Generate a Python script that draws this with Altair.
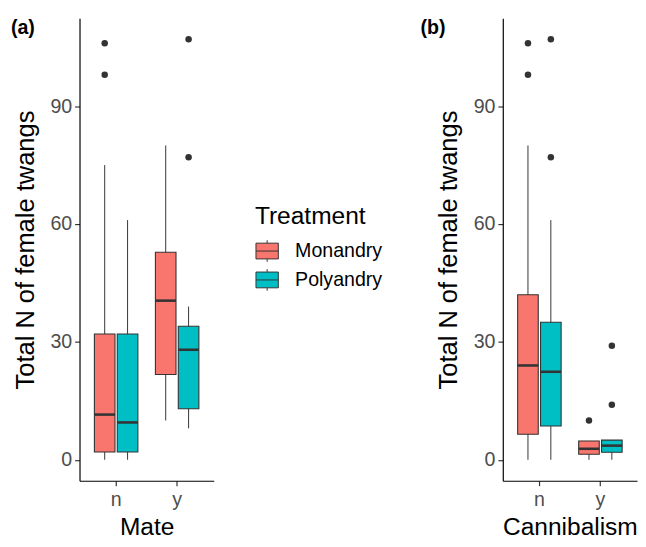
import altair as alt
import pandas as pd

# ---- data ----
treat_levels = ["Monandry", "Polyandry"]
fill_colors = ["#F8766D", "#00BFC4"]

box_panel = ["a", "a", "a", "a", "b", "b", "b", "b"]
box_group = ["n", "n", "y", "y", "n", "n", "y", "y"]
box_treat = ["Monandry", "Polyandry", "Monandry", "Polyandry",
             "Monandry", "Polyandry", "Monandry", "Polyandry"]
box_lower = [0, 0, 10, 8, 0, 0, 0, 0]
box_q1 = [2, 2, 21.7, 13, 6.5, 8.6, 1.4, 1.9]
box_median = [11.5, 9.5, 40.5, 28, 24, 22.4, 2.8, 3.6]
box_q3 = [32, 32, 52.8, 34, 42, 35, 4.8, 5]
box_upper = [75, 61, 80, 39, 80, 61, 4.8, 5]

out_panel = ["a", "a", "a", "a", "b", "b", "b", "b", "b", "b", "b"]
out_group = ["n", "n", "y", "y", "n", "n", "n", "n", "y", "y", "y"]
out_treat = ["Monandry", "Monandry", "Polyandry", "Polyandry",
             "Monandry", "Monandry", "Polyandry", "Polyandry",
             "Monandry", "Polyandry", "Polyandry"]
out_value = [106, 98, 107, 77, 106, 98, 107, 77, 10, 29, 14]

panel_ids = ["a", "b"]
panel_tags = ["(a)", "(b)"]
x_titles = ["Mate", "Cannibalism"]
y_title = "Total N of female twangs"
y_ticks = [0, 30, 60, 90]

boxes = pd.DataFrame({"panel": box_panel, "group": box_group, "treat": box_treat,
                      "lower": box_lower, "q1": box_q1, "median": box_median,
                      "q3": box_q3, "upper": box_upper})
outs = pd.DataFrame({"panel": out_panel, "group": out_group,
                     "treat": out_treat, "value": out_value})

Y_DOMAIN = [-5.35, 112.35]
LEGEND_PATH = ("M-0.95,-0.67L0.95,-0.67L0.95,0.67L-0.95,0.67Z"
               "M-0.95,0L0.95,0M0,-0.67L0,-0.92M0,0.67L0,0.92")


def panel(pid, tag, xtitle, tag_x, show_legend):
    b = boxes[boxes.panel == pid]
    o = outs[outs.panel == pid]
    yscale = alt.Scale(domain=Y_DOMAIN, nice=False, zero=False)
    xenc = alt.X("group:N", title=xtitle,
                 scale=alt.Scale(paddingInner=0.25, paddingOuter=0.225),
                 axis=alt.Axis(labelAngle=0))
    xoff = alt.XOffset("treat:N", scale=alt.Scale(domain=treat_levels,
                                                   paddingInner=0.1, paddingOuter=0.05))
    yaxis = alt.Axis(values=y_ticks, title=y_title)

    if show_legend:
        legend = alt.Legend(title="Treatment", orient="none", legendX=179, legendY=190,
                            symbolType=LEGEND_PATH, symbolSize=576,
                            symbolStrokeColor="#333333", symbolStrokeWidth=1,
                            symbolOpacity=1)
    else:
        legend = None
    color = alt.Color("treat:N", scale=alt.Scale(domain=treat_levels, range=fill_colors),
                      legend=legend)

    base = alt.Chart(b)
    whisk = base.mark_rule(color="#333333", strokeWidth=1).encode(
        x=xenc, xOffset=xoff,
        y=alt.Y("lower:Q", scale=yscale, axis=yaxis), y2="upper:Q")
    box = base.mark_bar(stroke="#333333", strokeWidth=1.1, opacity=1).encode(
        x=xenc, xOffset=xoff,
        y=alt.Y("q1:Q", scale=yscale, axis=yaxis), y2="q3:Q", color=color)
    med = base.mark_tick(color="#333333", size=21, thickness=2.6,
                         orient="horizontal", opacity=1).encode(
        x=xenc, xOffset=xoff, y=alt.Y("median:Q", scale=yscale, axis=yaxis))
    pts = alt.Chart(o).mark_circle(color="#333333", size=44, opacity=1).encode(
        x=xenc, xOffset=xoff, y=alt.Y("value:Q", scale=yscale, axis=yaxis))
    lab = alt.Chart(pd.DataFrame({"tag": [tag]})).mark_text(
        fontSize=20, fontWeight="bold", align="left", baseline="middle",
        color="black").encode(x=alt.value(tag_x), y=alt.value(10), text="tag:N")
    return alt.layer(whisk, box, med, pts, lab).properties(width=137, height=472)


pa = panel(panel_ids[0], panel_tags[0], x_titles[0], -70, True)
pb = panel(panel_ids[1], panel_tags[1], x_titles[1], -84, False)

chart = alt.hconcat(pa, pb, spacing=37).resolve_legend(color="independent").configure(
    font="Liberation Sans",
    padding={"left": 2, "top": 4, "right": 0, "bottom": 0},
).configure_view(stroke="transparent").configure_axis(
    grid=False, domainColor="black", domainWidth=1.2, tickColor="#333333",
    tickWidth=1.2, tickSize=5, labelFontSize=20, labelColor="#4D4D4D",
    labelPadding=3, titleFontSize=26, titleFontWeight="normal", titleColor="black",
    titlePadding=12,
).configure_axisX(labelPadding=4, titlePadding=6, titleFontSize=25).configure_legend(
    titleFontSize=25, titleFontWeight="normal", titleColor="black",
    labelFontSize=20, labelColor="black", labelOffset=16, rowPadding=2.5,
    titlePadding=10, padding=0,
)

chart.save("out.html", embed_options={"renderer": "svg", "actions": False})
